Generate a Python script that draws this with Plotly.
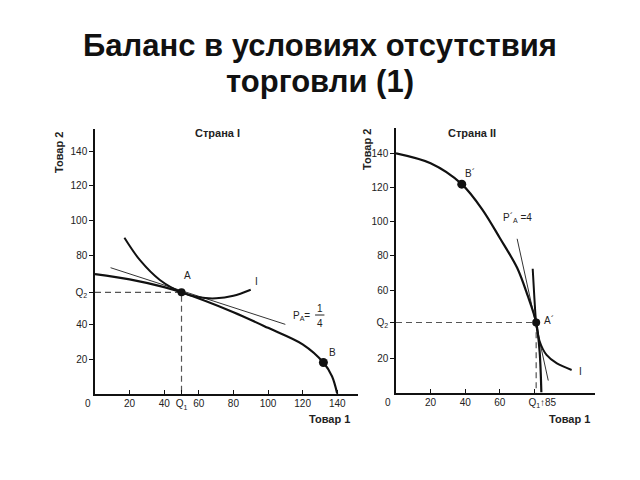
import plotly.graph_objects as go

# ---------------- data: Country I ----------------
ppf1_x = [0, 20, 40, 50, 80, 100, 120, 132, 137, 140]
ppf1_y = [69, 66, 61.5, 58.5, 47, 38, 28.5, 18, 10, 0]
ind1_x = [17, 26, 37.5, 50, 60, 70, 80, 90]
ind1_y = [90, 77, 65.6, 58.5, 55.6, 55, 56.5, 60]
tan1_x = [9, 110]
tan1_y = [72.7, 40]
A1 = (50, 58.5)
B1 = (132, 18)

# ---------------- data: Country II ----------------
ppf2_x = [0, 20, 38, 50, 60, 70, 76, 81, 83, 84]
ppf2_y = [140, 134.2, 122, 107, 90.5, 73, 57, 41, 24, 0]
ind2_x = [79, 80, 81, 83, 87, 93, 101.5]
ind2_y = [72.5, 55, 41, 30, 22, 17, 13.2]
tan2_x = [70, 88]
tan2_y = [90, 7]
A2 = (81, 41)
B2 = (38, 122)

# tick values / labels
x1_ticks = [20, 40, 50, 60, 80, 100, 120, 140]
x1_text = ["20", "40", "Q<sub>1</sub>", "60", "80", "100", "120", "140"]
y1_ticks = [20, 40, 58.5, 80, 100, 120, 140]
y1_text = ["20", "40", "Q<sub>2</sub>", "80", "100", "120", "140"]
x2_ticks = [20, 40, 60, 80]
x2_text = ["20", "40", "60", "Q<sub>1</sub>"]
y2_ticks = [20, 41, 60, 80, 100, 120, 140]
y2_text = ["20", "Q<sub>2</sub>", "60", "80", "100", "120", "140"]

FONT = "Liberation Sans, Arial, sans-serif"
INK = "#111111"
W, H, OFF = 640, 480, 8   # page body margin offset

def dx(p):  # page pixel -> paper x
    return (p - OFF) / W

def dy(p):  # page pixel -> paper y
    return 1 - (p - OFF) / H

fig = go.Figure()

def curve(x, y, xa, ya, w, spline=True, color=INK):
    fig.add_trace(go.Scatter(x=x, y=y, xaxis=xa, yaxis=ya, mode="lines",
                             line=dict(color=color, width=w,
                                       shape="spline" if spline else "linear",
                                       smoothing=0.9),
                             hoverinfo="skip", showlegend=False))

def dashed(pt, xa, ya):
    fig.add_trace(go.Scatter(x=[0, pt[0], pt[0]], y=[pt[1], pt[1], 0],
                             xaxis=xa, yaxis=ya, mode="lines",
                             line=dict(color="#555555", width=1.2, dash="6px,4px"),
                             hoverinfo="skip", showlegend=False))

def dot(pt, xa, ya, s):
    fig.add_trace(go.Scatter(x=[pt[0]], y=[pt[1]], xaxis=xa, yaxis=ya, mode="markers",
                             marker=dict(color=INK, size=s),
                             hoverinfo="skip", showlegend=False))

# Country I
dashed(A1, "x", "y")
curve(tan1_x, tan1_y, "x", "y", 1.0, spline=False, color="#333333")
curve(ppf1_x, ppf1_y, "x", "y", 2.2)
curve(ind1_x, ind1_y, "x", "y", 2.0)
dot(A1, "x", "y", 8)
dot(B1, "x", "y", 9)

# Country II
dashed(A2, "x2", "y2")
curve(tan2_x, tan2_y, "x2", "y2", 1.0, spline=False, color="#333333")
curve(ppf2_x, ppf2_y, "x2", "y2", 2.2)
curve(ind2_x, ind2_y, "x2", "y2", 2.0)
dot(A2, "x2", "y2", 8)
dot(B2, "x2", "y2", 9)

axis_common = dict(showgrid=False, zeroline=False, showline=True, linecolor=INK,
                   linewidth=1.5, tickcolor=INK, ticklen=4, tickwidth=1,
                   tickfont=dict(family=FONT, size=10, color="#222222"), fixedrange=True)

fig.update_layout(
    width=W, height=H, margin=dict(l=0, r=0, t=0, b=0),
    paper_bgcolor="white", plot_bgcolor="white",
    xaxis=dict(domain=[dx(95), dx(358)], range=[0, 152], tickmode="array",
               tickvals=x1_ticks, ticktext=x1_text, ticks="inside",
               anchor="y", **axis_common),
    yaxis=dict(domain=[dy(393.7), dy(128.5)], range=[0, 153], tickmode="array",
               tickvals=y1_ticks, ticktext=y1_text, ticks="outside",
               anchor="x", **axis_common),
    xaxis2=dict(domain=[dx(396), dx(595)], range=[0, 115], tickmode="array",
                tickvals=x2_ticks, ticktext=x2_text, ticks="inside",
                anchor="y2", **axis_common),
    yaxis2=dict(domain=[dy(392.5), dy(127.8)], range=[0, 155], tickmode="array",
                tickvals=y2_ticks, ticktext=y2_text, ticks="outside",
                anchor="x2", **axis_common),
)

def ann(text, x, y, xref="x", yref="y", size=10, bold=False, angle=0,
        xanchor="center", yanchor="middle", color="#222222"):
    fig.add_annotation(text=("<b>%s</b>" % text) if bold else text, x=x, y=y,
                       xref=xref, yref=yref, showarrow=False, textangle=angle,
                       xanchor=xanchor, yanchor=yanchor,
                       font=dict(family=FONT, size=size, color=color))

def px(xp, yp):
    return dx(xp), dy(yp)

# main title (two lines)
ann("Баланс в условиях отсутствия", *px(320, 45), "paper", "paper",
    size=31, bold=True, color="#111111")
ann("торговли (1)", *px(320, 81), "paper", "paper",
    size=31, bold=True, color="#111111")

# panel titles
ann("Страна I", *px(217, 133), "paper", "paper", size=11, bold=True)
ann("Страна II", *px(472, 133), "paper", "paper", size=11, bold=True)

# axis titles
ann("Товар 2", *px(59, 153), "paper", "paper", size=11, bold=True, angle=-90)
ann("Товар 1", *px(329, 419), "paper", "paper", size=11, bold=True)
ann("Товар 2", *px(367, 150), "paper", "paper", size=11, bold=True, angle=-90)
ann("Товар 1", *px(569, 419), "paper", "paper", size=11, bold=True)

# origin zeros
ann("0", *px(88, 403), "paper", "paper", size=10)
ann("0", *px(388, 402), "paper", "paper", size=10)
ann("↑85", *px(548, 402), "paper", "paper", size=10)

# point labels, Country I
ann("A", 53.7, 68, size=10)
ann("I", 93.5, 64.5, size=10)
ann("B", 137.3, 23.5, size=10)
ann("P<sub>A</sub>=", 119.4, 44.8, size=10)
ann("1", 129.8, 49.4, size=10)
ann("4", 129.8, 40.6, size=10)
fig.add_shape(type="line", x0=127.2, x1=132.6, y0=45.4, y1=45.4, xref="x", yref="y",
              line=dict(color="#222222", width=1))

# point labels, Country II
ann("B´", 42.8, 128.3, "x2", "y2", size=10)
ann("P´<sub>A</sub> =4", 70, 102, "x2", "y2", size=10)
ann("A´", 88.6, 42.4, "x2", "y2", size=10)
ann("I", 106.4, 12.2, "x2", "y2", size=10)

fig.write_html("out.html")
